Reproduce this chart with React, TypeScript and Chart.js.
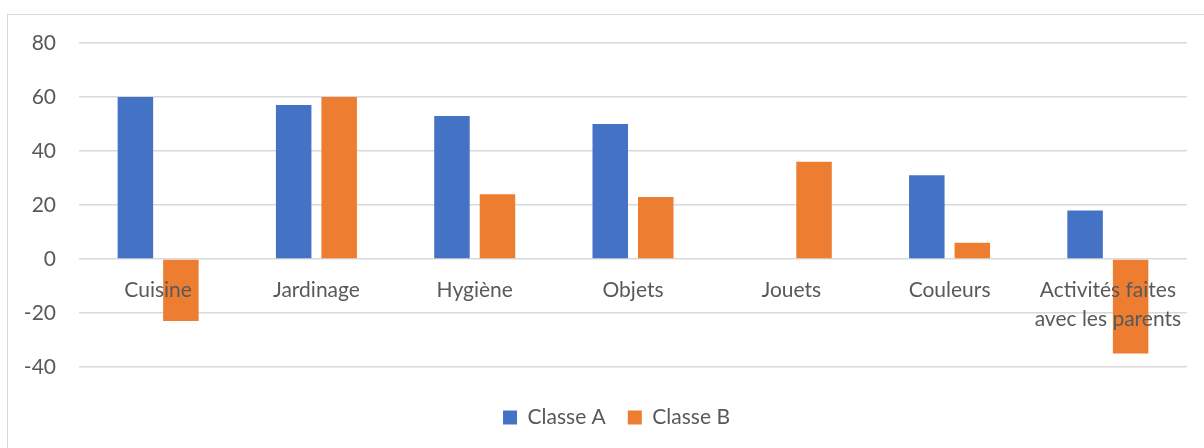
import React, { useEffect, useRef } from "react";
import { Chart, registerables } from "chart.js";

Chart.register(...registerables);

const categories: (string | string[])[] = [
  "Cuisine",
  "Jardinage",
  "Hygiène",
  "Objets",
  "Jouets",
  "Couleurs",
  ["Activités faites", "avec les parents"],
];
const classeA = [60, 57, 53, 50, 0, 31, 18];
const classeB = [-23, 60, 24, 23, 36, 6, -35];
const yMin = -40;
const yMax = 80;
const yStep = 20;

const TEXT = "#595959";
const GRID = "#d9d9d9";
const FONT = "Lato";

const shiftLegend = {
  id: "shiftLegend",
  afterLayout(chart: any) {
    const lg = chart.legend;
    if (lg) {
      lg.left += 23;
      lg.right += 23;
    }
  },
};

export default function App() {
  const ref = useRef<HTMLCanvasElement>(null);
  useEffect(() => {
    if (!ref.current) return;
    const chart = new Chart(ref.current, {
      type: "bar",
      data: {
        labels: categories,
        datasets: [
          {
            label: "Classe A",
            data: classeA,
            backgroundColor: "#4472C4",
            categoryPercentage: 0.575,
            barPercentage: 0.78,
          },
          {
            label: "Classe B",
            data: classeB,
            backgroundColor: "#ED7D31",
            categoryPercentage: 0.575,
            barPercentage: 0.78,
          },
        ],
      },
      options: {
        animation: false,
        responsive: false,
        maintainAspectRatio: false,
        layout: { padding: { top: 43, right: 17, bottom: 10, left: 0 } },
        scales: {
          x: {
            type: "category",
            position: { y: 0 } as any,
            grid: { display: false, drawTicks: false },
            border: { display: false },
            ticks: {
              z: 1,
              color: TEXT,
              font: { family: FONT, size: 21, lineHeight: 1.38 },
              padding: 17,
              maxRotation: 0,
              autoSkip: false,
            },
          },
          x2: {
            type: "category",
            position: "bottom",
            grid: { display: false, drawTicks: false },
            border: { display: false },
            ticks: { display: false },
            afterFit: (s: any) => {
              s.height = 18;
            },
          },
          y: {
            min: yMin,
            max: yMax,
            grid: { color: GRID, lineWidth: 1.5, drawTicks: false },
            border: { display: false },
            ticks: {
              stepSize: yStep,
              color: TEXT,
              font: { family: FONT, size: 21 },
              padding: 23,
            },
            afterFit: (s: any) => {
              s.width = 79;
            },
          },
        },
        plugins: {
          legend: {
            position: "bottom",
            labels: {
              color: TEXT,
              font: { family: FONT, size: 21 },
              boxWidth: 14,
              boxHeight: 14,
              padding: 22,
            },
          },
          tooltip: { enabled: false },
        },
      },
      plugins: [shiftLegend],
    });
    return () => chart.destroy();
  }, []);

  return (
    <div style={{ position: "fixed", left: 0, top: 0, width: 1204, height: 448, background: "#fff", overflow: "hidden" }}>
      <div
        style={{
          position: "absolute",
          left: 7,
          top: 14,
          width: 1300,
          height: 500,
          border: `1.5px solid ${GRID}`,
          boxSizing: "border-box",
        }}
      />
      <canvas ref={ref} width={1204} height={448} style={{ position: "absolute", left: 0, top: 0 }} />
    </div>
  );
}
